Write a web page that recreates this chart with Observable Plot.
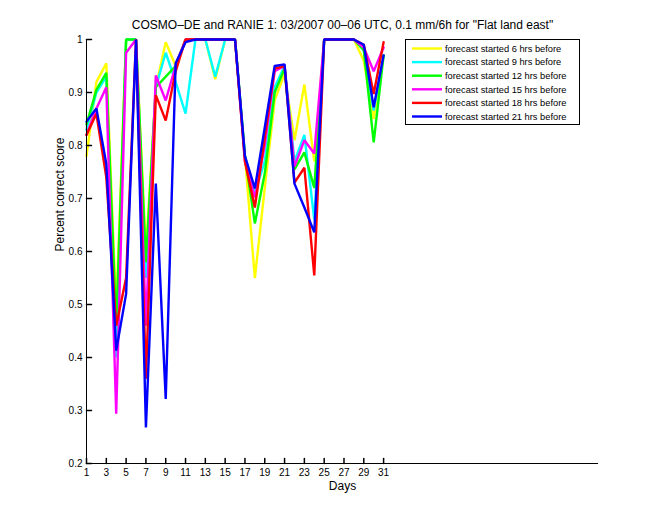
<!DOCTYPE html>
<html><head><meta charset="utf-8">
<script src="https://cdn.jsdelivr.net/npm/d3@7"></script>
<script src="https://cdn.jsdelivr.net/npm/@observablehq/plot@0.6"></script>
<style>body{margin:0;background:#fff;} svg{display:block}</style>
</head><body><div id="chart"></div>
<script>
const days = [1,2,3,4,5,6,7,8,9,10,11,12,13,14,15,16,17,18,19,20,21,22,23,24,25,26,27,28,29,30,31];
const labels = ["forecast started 6 hrs before","forecast started 9 hrs before","forecast started 12 hrs before","forecast started 15 hrs before","forecast started 18 hrs before","forecast started 21 hrs before"];
const colors = ["#ffff00","#00ffff","#00ff00","#ff00ff","#ff0000","#0000ff"];
const f06 = [0.78,0.92,0.955,0.49,1.0,1.0,0.60,0.91,0.995,0.95,1.0,1.0,1.0,0.925,1.0,1.0,0.78,0.55,0.72,0.885,0.935,0.81,0.915,0.77,1.0,1.0,1.0,1.0,0.96,0.85,0.97];
const f09 = [0.83,0.90,0.93,0.40,1.0,1.0,0.55,0.91,0.975,0.92,0.86,1.0,1.0,0.93,1.0,1.0,0.78,0.71,0.77,0.91,0.95,0.77,0.82,0.66,1.0,1.0,1.0,1.0,0.98,0.866,0.97];
const f12 = [0.84,0.905,0.937,0.46,1.0,1.0,0.58,0.91,0.93,0.95,1.0,1.0,1.0,1.0,1.0,1.0,0.78,0.653,0.747,0.90,0.945,0.755,0.787,0.72,1.0,1.0,1.0,1.0,0.98,0.806,0.97];
const f15 = [0.82,0.87,0.91,0.294,0.975,1.0,0.46,0.932,0.885,0.95,1.0,1.0,1.0,1.0,1.0,1.0,0.77,0.702,0.80,0.94,0.95,0.76,0.81,0.785,1.0,1.0,1.0,1.0,0.985,0.94,0.985];
const f18 = [0.82,0.86,0.74,0.46,0.55,1.0,0.36,0.895,0.847,0.94,1.0,1.0,1.0,1.0,1.0,1.0,0.77,0.683,0.815,0.945,0.95,0.73,0.758,0.555,1.0,1.0,1.0,1.0,0.99,0.897,0.995];
const f21 = [0.845,0.87,0.765,0.413,0.52,1.0,0.268,0.728,0.322,0.955,0.995,1.0,1.0,1.0,1.0,1.0,0.78,0.719,0.834,0.95,0.953,0.728,0.683,0.636,1.0,1.0,1.0,1.0,0.99,0.872,0.97];
const yTicks = [0.2,0.3,0.4,0.5,0.6,0.7,0.8,0.9,1];
const xTicks = [1,3,5,7,9,11,13,15,17,19,21,23,25,27,29,31];
const title = "COSMO\u2013DE and RANIE 1: 03/2007 00\u201306 UTC, 0.1 mm/6h for \"Flat land east\"";

const seriesValues = [f06,f09,f12,f15,f18,f21];
const data = [];
labels.forEach((lab,i)=>seriesValues[i].forEach((v,j)=>data.push({day: days[j], value: v, series: lab})));

const tickShape = {draw(ctx, l){ctx.moveTo(0,0); ctx.lineTo(0,-l);}};
const font = "'Liberation Sans', Arial, Helvetica, sans-serif";

const plot = Plot.plot({
  width: 660, height: 520,
  marginLeft: 86, marginRight: 62, marginTop: 39, marginBottom: 57,
  style: {fontFamily: font, background: "#fff", color: "#000"},
  x: {domain: [1, 52.7], axis: null},
  y: {domain: [0.2, 1], axis: null},
  color: {domain: labels, range: colors},
  marks: [
    Plot.line(data, {x: "day", y: "value", stroke: "series", z: "series", strokeWidth: 2.4, strokeLinejoin: "miter"}),
    Plot.ruleX([1], {stroke: "#000"}),
    Plot.ruleY([0.2], {stroke: "#000"}),
    Plot.vector(yTicks, {x: 1, y: d => d, length: 5, rotate: 90, anchor: "start", shape: tickShape, stroke: "#000"}),
    Plot.vector(xTicks, {x: d => d, y: 0.2, length: 5, rotate: 0, anchor: "start", shape: tickShape, stroke: "#000"}),
    Plot.text(yTicks, {x: 1, y: d => d, text: d => String(d), textAnchor: "end", dx: -4, fontSize: 10}),
    Plot.text(xTicks, {x: d => d, y: 0.2, text: d => String(d), lineAnchor: "top", dy: 5, fontSize: 10}),
    Plot.text([title], {frameAnchor: "top", lineAnchor: "middle", dy: -14, fontSize: 12}),
    Plot.text(["Days"], {frameAnchor: "bottom", lineAnchor: "middle", dy: 23, fontSize: 12}),
    Plot.text(["Percent correct score"], {frameAnchor: "left", lineAnchor: "middle", dx: -26, rotate: -90, fontSize: 12})
  ]
});
document.getElementById("chart").appendChild(plot);

// legend
const svg = d3.select(plot);
const lg = svg.append("g").attr("font-family", font).attr("font-size", 9.3).attr("text-anchor", "start");
const lx = 405, ly = 39, lw = 174, lh = 85;
lg.append("rect").attr("x", lx + 0.5).attr("y", ly + 0.5).attr("width", lw).attr("height", lh)
  .attr("fill", "#fff").attr("stroke", "#000");
labels.forEach((lab, i) => {
  const yy = ly + 9.5 + i * 13.6;
  lg.append("line").attr("x1", lx + 7).attr("x2", lx + 37).attr("y1", yy).attr("y2", yy)
    .attr("stroke", colors[i]).attr("stroke-width", 2.4);
  lg.append("text").attr("x", lx + 40).attr("y", yy).attr("dy", "0.35em").attr("fill", "#000")
    .attr("text-anchor", "start").text(lab);
});
</script>
</body></html>
